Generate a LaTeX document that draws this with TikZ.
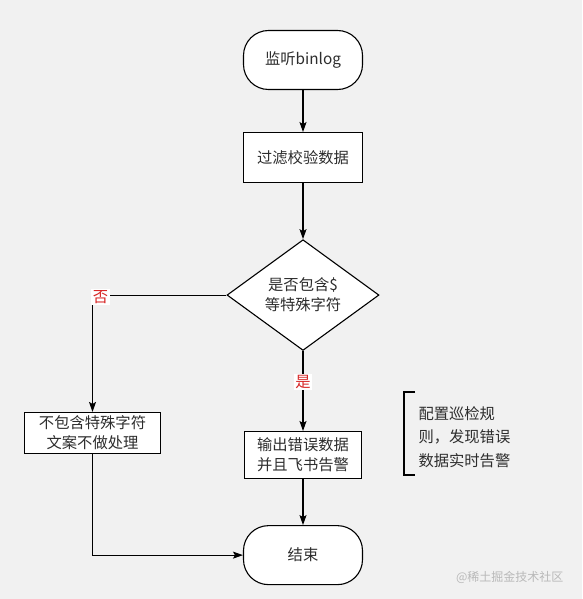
\documentclass[tikz,border=0pt]{standalone}
\usepackage{fontspec}
\setmainfont{Noto Sans CJK SC}
\usetikzlibrary{arrows.meta, positioning, shapes.geometric}
\definecolor{pagebg}{RGB}{241,241,241}
\definecolor{inkgray}{RGB}{45,45,45}
\definecolor{answerred}{RGB}{215,38,38}

\begin{document}
\begin{tikzpicture}[x=1pt, y=1pt, font=\fontsize{15.3}{20}\selectfont, text=inkgray, terminal/.style={draw, line width=1.1pt, fill=white, rounded corners=25pt, minimum width=119pt, minimum height=59pt}, box/.style={draw, line width=1.1pt, fill=white, align=center, inner sep=2pt, minimum width=119pt, minimum height=50pt}, decision/.style={draw, diamond, line width=1.1pt, fill=white, align=center, inner sep=0pt, minimum width=152pt, minimum height=100pt}, arrow/.style={-{Stealth[length=10pt, width=7pt, inset=2pt]}, line width=1.1pt}, answer/.style={fill=white, text=answerred, inner sep=1.5pt}]

\path[fill=pagebg] (0,0) rectangle (582,-599);
\useasboundingbox (0,0) rectangle (582,-599);

\node[terminal] (listen) at (303,-60) {监听binlog};
\node[box, below=42pt of listen] (filter) {过滤校验数据};
\node[decision, below=56pt of filter] (check) {是否包含\$\\等特殊字符};
\node[box, minimum width=117pt, minimum height=47pt, below=80pt of check] (alarm) {输出错误数据\\并且飞书告警};
\node[terminal, below=46pt of alarm] (finish) {结束};
\node[box, minimum width=136pt, minimum height=41pt] (skip) at (92.5,-433) {不包含特殊字符\\文案不做处理};
\node[anchor=west, align=left, font=\fontsize{15.3}{23.5}\selectfont] (rule) at (415,-437) {配置巡检规\\则，发现错误\\数据实时告警};
\node[anchor=east, text=gray!55, font=\fontsize{12}{14}\selectfont] (mark) at (567,-577) {@稀土掘金技术社区};

\draw[arrow] (listen) -- (filter);
\draw[arrow] (filter) -- (check);
\draw[arrow] (check) -- node[answer, pos=0.39] {是} (alarm);
\draw[arrow] (check.west) -- (skip.north |- check.west) node[answer, xshift=8pt, yshift=-2pt] {否} -- (skip);
\draw[arrow] (alarm) -- (finish);
\draw[arrow] (skip) -- (skip |- finish.west) -- (finish);
\draw[line width=1.1pt] (415,-392) -| (404,-475) -- (415,-475);

\end{tikzpicture}
\end{document}
